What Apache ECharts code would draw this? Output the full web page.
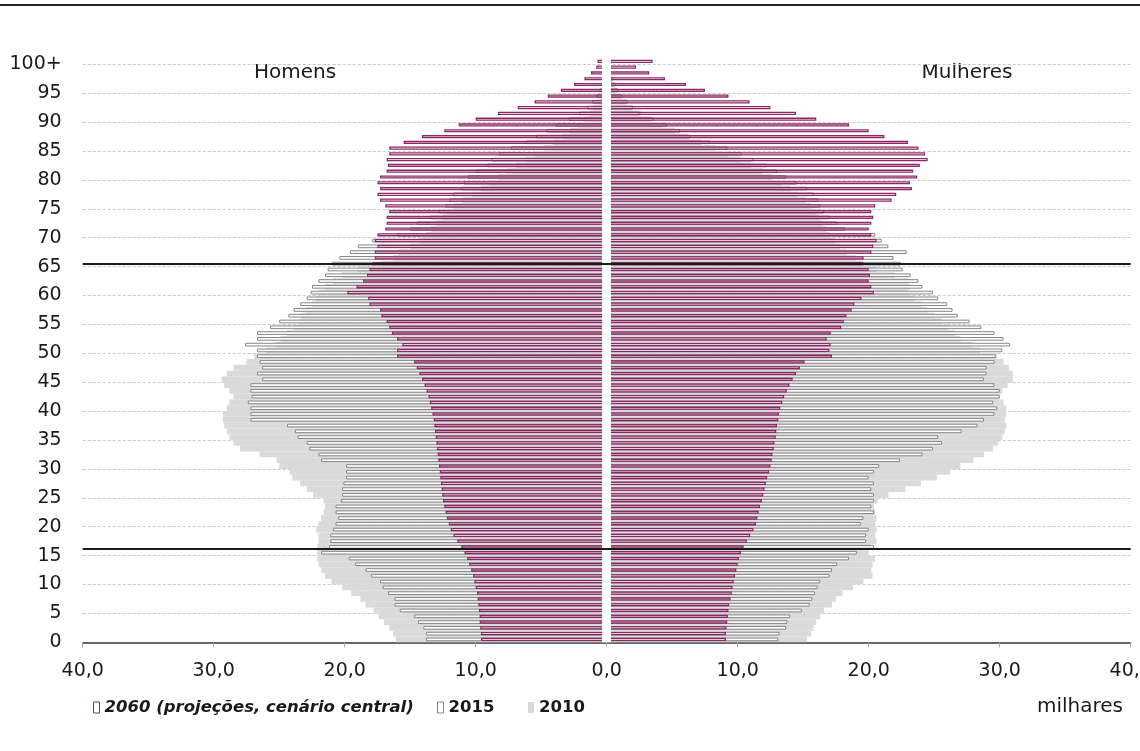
<!DOCTYPE html>
<html><head><meta charset="utf-8">
<script src="https://cdn.jsdelivr.net/npm/echarts@6/dist/echarts.min.js"></script>
<style>html,body{margin:0;padding:0;background:#fff}#c{width:1140px;height:751px}</style>
</head><body><div id="c"></div>
<script>
// Age categories (single years, 100 = 100+)
const ages = [0,1,2,3,4,5,6,7,8,9,10,11,12,13,14,15,16,17,18,19,20,21,22,23,24,25,26,27,28,29,30,31,32,33,34,35,36,37,38,39,40,41,42,43,44,45,46,47,48,49,50,51,52,53,54,55,56,57,58,59,60,61,62,63,64,65,66,67,68,69,70,71,72,73,74,75,76,77,78,79,80,81,82,83,84,85,86,87,88,89,90,91,92,93,94,95,96,97,98,99,100];
const yTickLabels = ['0','5','10','15','20','25','30','35','40','45','50','55','60','65','70','75','80','85','90','95','100+'];
const refLines = [16.1, 65.5];

// Men (Homens), thousands
const men2060 = [9.6,9.6,9.65,9.7,9.7,9.75,9.8,9.85,9.9,10.0,
 10.1,10.2,10.35,10.5,10.65,10.85,11.1,11.4,11.7,11.9,
 12.05,12.2,12.3,12.4,12.5,12.55,12.6,12.65,12.7,12.75,
 12.8,12.85,12.9,12.95,13.0,13.05,13.1,13.15,13.2,13.3,
 13.4,13.5,13.6,13.75,13.9,14.1,14.3,14.5,14.7,16.0,
 16.0,15.6,16.0,16.4,16.6,16.8,17.2,17.3,18.1,18.2,
 19.8,19.1,18.6,18.3,18.1,17.9,17.7,17.7,17.5,17.7,
 17.5,16.9,16.8,16.8,16.6,16.9,17.3,17.5,17.3,17.5,
 17.3,16.8,16.7,16.8,16.6,16.6,15.5,14.1,12.4,11.3,
 10.0,8.3,6.8,5.5,4.5,3.5,2.5,1.7,1.2,0.8,
 0.7];
const men2015 = [13.8,13.8,14.0,14.4,14.7,15.8,16.2,16.2,16.7,17.1,
 17.3,18.0,18.4,19.2,19.7,21.8,21.2,21.1,21.1,20.9,
 20.7,20.5,20.7,20.7,20.3,20.2,20.2,20.1,19.9,19.9,
 19.9,21.8,22.0,22.7,22.9,23.6,23.8,24.4,27.2,27.2,
 27.2,27.4,27.1,27.2,27.2,26.3,26.7,26.3,26.5,26.7,
 26.7,27.6,26.7,26.7,25.7,25.0,24.3,23.9,23.4,22.9,
 22.6,22.5,22.0,21.5,21.3,21.0,20.4,19.6,19.0,17.9,
 16.0,15.0,14.5,13.5,12.8,12.3,12.0,11.7,11.1,10.9,
 10.6,10.0,9.1,8.8,8.2,7.3,6.2,5.4,4.6,3.9,
 2.9,2.1,1.5,1.1,0.8,0.55,0.4,0.3,0.2,0.15,
 0.2];
const men2010 = [16.1,16.3,16.6,17.0,17.4,17.8,18.4,18.8,19.5,20.2,
 21.0,21.5,21.8,22.0,22.1,22.1,22.1,22.0,22.0,22.2,
 22.0,21.8,21.6,21.5,21.6,22.4,22.9,23.4,24.0,24.2,
 25.0,25.2,26.5,28.0,28.5,28.8,29.0,29.2,29.3,29.3,
 29.0,28.8,28.5,28.8,29.2,29.4,29.0,28.5,27.5,26.9,
 26.0,25.3,24.9,24.4,23.9,23.5,23.3,23.0,22.5,22.2,
 22.0,21.5,20.9,20.2,19.0,17.2,16.3,15.9,15.0,14.3,
 13.8,13.4,13.0,12.5,12.2,11.7,11.0,10.3,9.6,9.0,
 8.3,7.6,6.9,6.2,5.5,4.8,4.1,3.4,2.8,2.2,
 1.7,1.3,1.0,0.7,0.5,0.35,0.25,0.18,0.12,0.08,
 0.1];

// Women (Mulheres), thousands
const women2060 = [9.1,9.1,9.15,9.2,9.25,9.3,9.35,9.45,9.55,9.6,
 9.7,9.8,9.9,10.0,10.1,10.25,10.45,10.7,10.95,11.2,
 11.4,11.5,11.6,11.7,11.85,11.95,12.05,12.15,12.25,12.4,
 12.5,12.6,12.65,12.75,12.8,12.9,12.95,13.0,13.1,13.15,
 13.25,13.4,13.55,13.75,13.95,14.2,14.45,14.75,15.1,17.2,
 17.0,17.1,16.8,17.1,17.9,18.1,18.3,18.7,18.9,19.45,
 20.4,20.2,20.0,20.1,20.0,19.6,19.6,20.2,20.35,20.6,
 20.2,20.0,20.2,20.35,20.2,20.5,21.75,22.1,23.3,23.15,
 23.7,23.4,23.9,24.5,24.3,23.8,23.0,21.2,20.0,18.5,
 16.0,14.45,12.5,10.9,9.3,7.5,6.05,4.45,3.25,2.24,
 3.5];
const women2015 = [13.1,13.2,13.7,13.8,14.0,14.9,15.5,15.7,15.9,16.1,
 16.3,17.0,17.2,17.6,18.5,19.1,20.4,19.8,19.8,20.0,
 19.4,19.6,20.4,20.2,20.4,20.4,20.2,20.4,20.0,20.4,
 20.8,22.4,24.1,24.9,25.6,25.3,27.1,28.3,28.8,29.6,
 29.8,29.5,30.0,30.0,29.6,28.8,29.0,29.0,29.6,29.7,
 30.2,30.8,30.3,29.6,28.6,27.7,26.8,26.4,26.0,25.3,
 24.9,24.1,23.8,23.2,22.6,22.45,21.9,22.9,21.5,21.0,
 20.5,18.2,17.6,17.0,16.6,16.3,16.15,15.8,15.3,14.5,
 13.7,13.0,12.2,11.2,10.3,9.2,7.9,6.4,5.6,4.6,
 3.6,2.5,2.0,1.6,1.2,0.9,0.7,0.5,0.35,0.25,
 0.35];
const women2010 = [15.3,15.6,15.8,16.0,16.3,16.6,17.2,17.5,18.0,18.8,
 19.6,20.3,20.2,20.3,20.5,20.0,20.2,20.6,20.5,20.6,
 20.5,20.6,20.5,20.4,20.7,21.5,22.8,24.0,25.2,26.2,
 27.0,28.0,28.8,29.5,29.9,30.2,30.4,30.5,30.4,30.5,
 30.5,30.3,30.0,30.2,30.6,31.0,31.0,30.7,30.3,29.8,
 28.5,27.9,27.0,26.6,26.1,25.6,25.0,24.5,24.0,23.5,
 23.0,23.2,23.0,22.0,20.6,19.5,19.0,18.3,17.8,17.4,
 17.0,16.8,16.5,16.2,16.0,15.6,15.2,14.6,14.0,13.3,
 12.6,11.9,11.0,10.2,9.3,8.3,7.2,6.2,5.2,4.3,
 3.4,2.6,2.0,1.5,1.1,0.8,0.55,0.4,0.3,0.2,
 0.3];

const N2060 = '2060 (projeções, cenário central)';
const N2015 = '2015';
const N2010 = '2010';
const FONT = 'DejaVu Sans';
const PURPLE = '#8e2766';
const GRAY15 = '#858585';
const GRAY10 = '#dadada';
const TXT = '#1a1a1a';

function neg(arr){ return arr.map(function(v){ return -v; }); }
function bar(name, data, axisIdx, width, style){
  return {name: name, type: 'bar', xAxisIndex: 0, yAxisIndex: axisIdx, data: data,
    barWidth: width, barGap: '-100%', itemStyle: style, silent: true, animation: false};
}
function legendFor(left, item){
  return {
    left: left, top: 699, itemWidth: 6, itemHeight: 11, icon: 'rect', selectedMode: false,
    padding: 0,
    textStyle: {fontFamily: FONT, fontSize: 16.5, fontWeight: 'bold', color: TXT},
    data: [item]
  };
}

const chart = echarts.init(document.getElementById('c'), null, {renderer: 'canvas'});
const s2010 = {color: GRAY10, borderWidth: 0};
const s2015 = {color: '#ffffff', borderColor: GRAY15, borderWidth: 1};
const s2060 = {color: 'rgba(255,255,255,0)', borderColor: PURPLE, borderWidth: 1.3};

const option = {
  animation: false,
  grid: {left: 82.7, width: 1048, top: 58.5, height: 583.8, outerBoundsMode: 'none', containLabel: false},
  xAxis: {
    type: 'value', min: -40, max: 40, interval: 10,
    axisLine: {onZero: false, lineStyle: {color: '#333', width: 1.5}},
    axisTick: {length: 5, lineStyle: {color: '#aaa'}},
    splitLine: {show: false},
    axisLabel: {
      formatter: function(v){ return Math.abs(v).toFixed(1).replace('.', ','); },
      fontFamily: FONT, fontSize: 19, color: TXT, margin: 19
    }
  },
  yAxis: [
    {type: 'category', data: ages, show: false},
    {type: 'category', data: ages, show: false},
    {type: 'category', data: ages, show: false},
    {type: 'value', position: 'left', min: 0, max: 101, interval: 5,
     axisLine: {show: false, onZero: false}, axisTick: {show: false},
     splitLine: {show: true, showMinLine: false, showMaxLine: false,
       lineStyle: {color: '#c8c8c8', type: [3, 2], width: 1}},
     axisLabel: {margin: 21, showMaxLabel: false, fontFamily: FONT, fontSize: 19, color: TXT,
       formatter: function(v){ return (v % 5 === 0 && v <= 100) ? yTickLabels[v / 5] : ''; }}
    }
  ],
  legend: [
    legendFor(93, {name: N2060, itemStyle: {color: '#fff', borderColor: PURPLE, borderWidth: 1}, textStyle: {fontStyle: 'italic'}}),
    legendFor(437, {name: N2015, itemStyle: {color: '#fff', borderColor: GRAY15, borderWidth: 1}}),
    legendFor(528, {name: N2010, itemStyle: {color: GRAY10, borderWidth: 0}})
  ],
  series: [
    bar(N2010, neg(men2010), 0, '100%', s2010),
    bar(N2010, women2010, 0, '100%', s2010),
    bar(N2015, neg(men2015), 1, 3.7, s2015),
    bar(N2015, women2015, 1, 3.7, s2015),
    bar(N2060, neg(men2060), 2, 3.2, s2060),
    bar(N2060, women2060, 2, 3.2, s2060),
    {type: 'scatter', xAxisIndex: 0, yAxisIndex: 3, data: [[0, 0]], symbolSize: 0, silent: true,
     markLine: {silent: true, symbol: ['none', 'none'], label: {show: false}, animation: false,
       data: [
         {xAxis: 0, lineStyle: {color: '#ffffff', width: 9, type: 'solid'}},
         {yAxis: refLines[0], lineStyle: {color: TXT, width: 1.8, type: 'solid'}},
         {yAxis: refLines[1], lineStyle: {color: TXT, width: 1.8, type: 'solid'}}
       ]}
    }
  ],
  graphic: [
    {type: 'line', shape: {x1: 0, y1: 5, x2: 1140, y2: 5}, style: {stroke: '#222', lineWidth: 2}},
    {type: 'text', x: 295, y: 73, style: {text: 'Homens', fontFamily: FONT, fontSize: 20, fill: TXT,
      textAlign: 'center', textVerticalAlign: 'middle', align: 'center', verticalAlign: 'middle'}},
    {type: 'text', x: 967, y: 73, style: {text: 'Mulheres', fontFamily: FONT, fontSize: 20, fill: TXT,
      textAlign: 'center', textVerticalAlign: 'middle', align: 'center', verticalAlign: 'middle'}},
    {type: 'text', x: 1080, y: 707, style: {text: 'milhares', fontFamily: FONT, fontSize: 20, fill: TXT,
      textAlign: 'center', textVerticalAlign: 'middle', align: 'center', verticalAlign: 'middle'}}
  ]
};
chart.setOption(option);
</script>
</body></html>
